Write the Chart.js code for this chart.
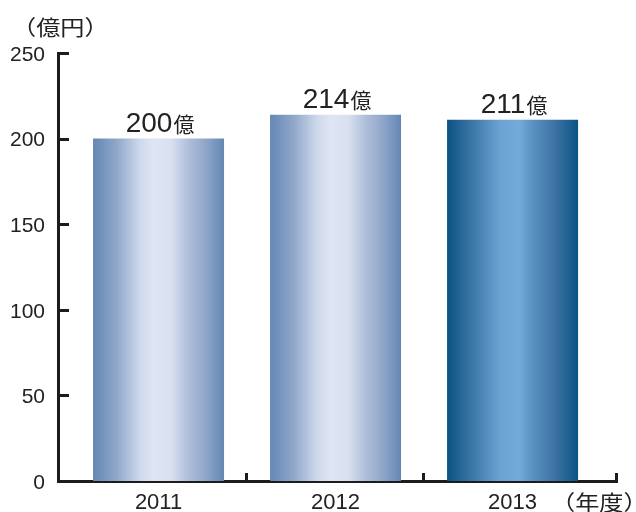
<!DOCTYPE html>
<html lang="ja">
<head>
    <meta charset="UTF-8" />
    <script src="https://cdn.jsdelivr.net/npm/chart.js"></script>
    <title>売上</title>
    <style>
        html, body { margin: 0; padding: 0; background: #fff; }
        .grafico { width: 636px; height: 512px; }
    </style>
</head>
<body>
    <div class="grafico"><canvas id="myChart"></canvas></div>
<script>
var anos = ["2011", "2012", "2013"];
var valores = [200, 214, 211];
var rotulos = ["200", "214", "211"];
var ticksY = [0, 50, 100, 150, 200, 250];
var unidadeY = "（億円）";
var unidadeX = "（年度）";
var sufixo = "億";

var corEixo = "#1c1c1c";
var fonteNum = "'Liberation Sans', Arial, sans-serif";
var fonteJP = "'Noto Sans CJK JP', sans-serif";

function gradiente(ctx, x0, x1, escuro) {
    var g = ctx.createLinearGradient(x0, 0, x1, 0);
    if (escuro) {
        g.addColorStop(0, "#0b5282");
        g.addColorStop(0.18, "#3a74a4");
        g.addColorStop(0.4, "#6aa3d2");
        g.addColorStop(0.55, "#73abd9");
        g.addColorStop(0.66, "#5890c0");
        g.addColorStop(0.82, "#3d74a4");
        g.addColorStop(1, "#0c5384");
    } else {
        g.addColorStop(0, "#6387b4");
        g.addColorStop(0.18, "#90a7ca");
        g.addColorStop(0.36, "#cfd9ec");
        g.addColorStop(0.46, "#dee5f3");
        g.addColorStop(0.6, "#d8e0f0");
        g.addColorStop(0.72, "#b1c0db");
        g.addColorStop(0.86, "#90a6c9");
        g.addColorStop(1, "#6387b4");
    }
    return g;
}

var pluginBarras = {
    id: "barras",
    beforeDatasetsDraw: function (chart) {
        var ctx = chart.ctx;
        chart.getDatasetMeta(0).data.forEach(function (el, i) {
            var x0 = el.x - el.width / 2;
            el.options.backgroundColor = gradiente(ctx, x0, x0 + el.width, i == 2);
        });
    },
    afterDraw: function (chart) {
        var ctx = chart.ctx;
        var area = chart.chartArea;
        var sx = chart.scales.x;
        var sy = chart.scales.y;
        ctx.save();
        // marcas internas
        ctx.strokeStyle = corEixo;
        ctx.lineWidth = 3;
        ctx.beginPath();
        ticksY.forEach(function (v) {
            if (v == 0) return;
            var y = Math.round(sy.getPixelForValue(v)) + 0.5;
            ctx.moveTo(area.left, y);
            ctx.lineTo(area.left + 11, y);
        });
        for (var i = 0; i < anos.length; i++) {
            var xv = i < anos.length - 1 ? i + 0.5 : sx.max;
            var x = Math.round(sx.getPixelForValue(xv)) - 0.5;
            ctx.moveTo(x, area.bottom + 1);
            ctx.lineTo(x, area.bottom - 8);
        }
        ctx.stroke();

        // rótulos das barras
        ctx.fillStyle = "#222";
        ctx.textBaseline = "alphabetic";
        ctx.textAlign = "left";
        chart.getDatasetMeta(0).data.forEach(function (el, i) {
            ctx.font = "28px " + fonteNum;
            var w1 = ctx.measureText(rotulos[i]).width;
            ctx.font = "21px " + fonteJP;
            var w2 = ctx.measureText(sufixo).width;
            var x = el.x - (w1 + w2) / 2 + 1;
            var y = el.y - 7;
            ctx.font = "28px " + fonteNum;
            ctx.fillText(rotulos[i], x, y);
            ctx.font = "21px " + fonteJP;
            ctx.fillText(sufixo, x + w1 + 1, y);
        });

        // unidades
        ctx.textBaseline = "middle";
        ctx.font = "21px " + fonteJP;
        ctx.save();
        ctx.translate(12, 27);
        ctx.scale(1.15, 1);
        ctx.fillText(unidadeY, 0, 0);
        ctx.restore();
        ctx.save();
        ctx.translate(551, 502);
        ctx.scale(1.15, 1);
        ctx.fillText(unidadeX, 0, 0);
        ctx.restore();
        ctx.restore();
    }
};

var chart = new Chart(document.getElementById("myChart"), {
    type: "bar",
    data: {
        datasets: [{
            data: valores.map(function (v, i) { return { x: i, y: v }; }),
            // funcao para cada barra ter suas proprias opcoes
            backgroundColor: function (c) { return "#8fa6c9"; },
            borderWidth: 0,
            barPercentage: 0.74,
            categoryPercentage: 1
        }]
    },
    plugins: [pluginBarras],
    options: {
        responsive: true,
        maintainAspectRatio: false,
        animation: false,
        layout: { padding: { top: 53, right: 19, left: 0, bottom: 0 } },
        plugins: {
            legend: { display: false },
            tooltip: { enabled: false }
        },
        scales: {
            x: {
                type: "linear",
                offset: false,
                min: -0.568,
                max: 2.59,
                grid: { display: false, drawTicks: false, offset: false },
                border: { display: true, width: 3, color: corEixo },
                afterBuildTicks: function (scale) {
                    scale.ticks = anos.map(function (a, i) { return { value: i }; });
                },
                afterFit: function (scale) { scale.height = 31; },
                ticks: {
                    padding: 9,
                    color: "#222",
                    font: { family: fonteNum, size: 22 },
                    callback: function (v) { return anos[v]; }
                }
            },
            y: {
                min: 0,
                max: 250,
                grid: { display: false, drawTicks: false },
                border: { display: true, width: 3, color: corEixo },
                afterBuildTicks: function (scale) {
                    scale.ticks = ticksY.map(function (v) { return { value: v }; });
                },
                afterFit: function (scale) { scale.width = 58; },
                ticks: {
                    padding: 13,
                    labelOffset: 2,
                    color: "#222",
                    font: { family: fonteNum, size: 21 }
                }
            }
        }
    }
});
</script>
</body>
</html>
